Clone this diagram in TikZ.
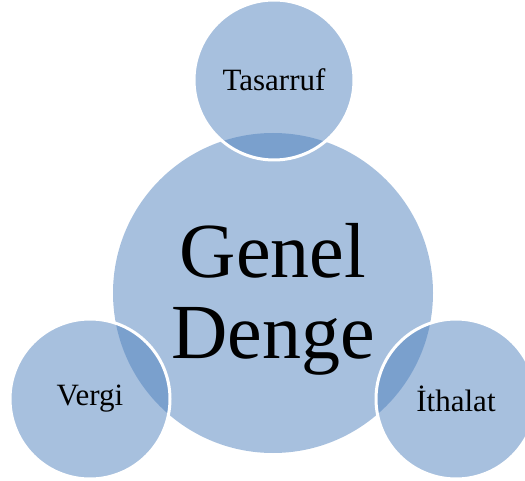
\documentclass[tikz,border=0pt]{standalone}
\usepackage{fontspec}
\setmainfont{Liberation Serif}
\definecolor{accent}{HTML}{4F81BD}
\begin{document}
\begin{tikzpicture}
    [x=1pt,y=-1pt,
     ball/.style={circle,fill=accent,fill opacity=0.5,text opacity=1,inner sep=0pt},
     small/.style={ball,minimum size=160pt,draw=white,line width=3pt,font=\fontsize{31}{31}\selectfont}]
    \useasboundingbox (0,0) rectangle (525,481);
    \node[ball,minimum size=320pt] (denge) at (273,293) {};
    \node[font=\fontsize{78}{81}\selectfont,align=center,inner sep=0pt] (dengetext) at ([yshift=-6.5pt]denge.center) {Genel\\Denge};
    \foreach \name/\cx/\cy/\label in {tasarruf/274/80/Tasarruf,vergi/90/399/Vergi,ithalat/456/399/İthalat}
        \node[small] (\name) at (\cx,\cy) {\label};
\end{tikzpicture}
\end{document}
